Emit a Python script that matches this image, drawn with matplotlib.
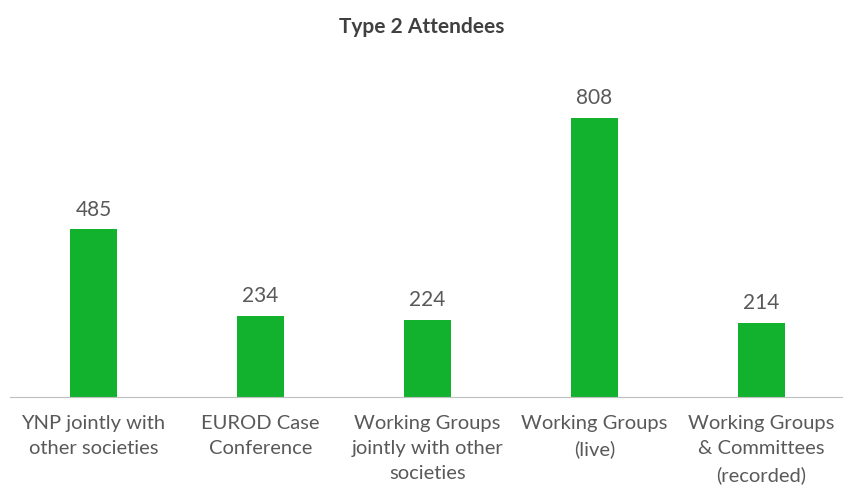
import matplotlib.pyplot as plt

categories = ['YNP jointly with\nother societies', 'EUROD Case\nConference',
              'Working Groups\njointly with other\nsocieties', 'Working Groups\n(live)',
              'Working Groups\n& Committees\n(recorded)']
values = [485, 234, 224, 808, 214]

plt.rcParams['font.family'] = ['Lato', 'DejaVu Sans']

fig = plt.figure(figsize=(8.43, 4.88), dpi=100)
ax = fig.add_axes([10/843, 91/488, 835/843, 311/488])

x = range(len(values))
bars = ax.bar(x, values, width=0.28, color='#12B22F')
for xi, v in zip(x, values):
    ax.text(xi, v + 28, str(v), ha='center', va='bottom', fontsize=15, color='#595959')

ax.set_xlim(-0.5, 4.5)
ax.set_ylim(0, 900)
ax.set_yticks([])
ax.set_xticks(list(x))
ax.set_xticklabels(categories, fontsize=14.5, color='#595959', va='top', linespacing=1.58)
ax.tick_params(axis='x', length=0, pad=13)
for s in ['top', 'right', 'left']:
    ax.spines[s].set_visible(False)
ax.spines['bottom'].set_color('#BFBFBF')

fig.suptitle('Type 2 Attendees', y=0.965, fontsize=15, fontweight='bold', color='#404040')

fig.savefig('out.png', dpi=100)
